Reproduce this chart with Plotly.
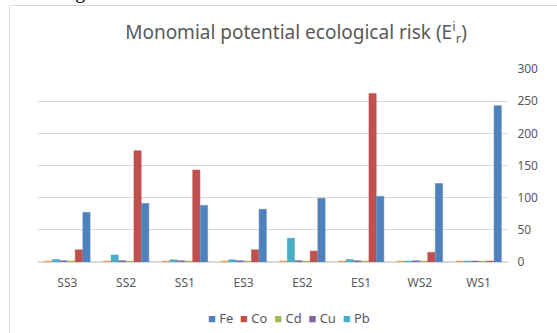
import plotly.graph_objects as go

categories = ["SS3", "SS2", "SS1", "ES3", "ES2", "ES1", "WS2", "WS1"]
fe = [77, 91, 88, 82, 99, 102, 122, 243]
co = [19, 173, 143, 19, 17, 262, 15, 1.5]
cd = [1.5, 1.5, 1.5, 1.5, 1.5, 1.5, 1.5, 1.5]
cu = [2, 2, 2, 2, 2, 2, 2, 1.5]
pb = [4, 11, 3.5, 3.5, 37, 4, 1.5, 1.5]
extra = [1.5, 1.5, 1.5, 1.5, 1.5, 1.5, 1.5, 1.5]
legend_names = ["Fe", "Co", "Cd", "Cu", "Pb"]
y_ticks = [0, 50, 100, 150, 200, 250, 300]

GRAY = "#595959"
COLORS = {"Fe": "#4F81BD", "Co": "#C0504D", "Cd": "#9BBB59",
          "Cu": "#8064A2", "Pb": "#4BACC6", "": "#F79646"}
fig = go.Figure()
series = [("", extra), ("Pb", pb), ("Cu", cu), ("Cd", cd), ("Co", co), ("Fe", fe)]
for name, vals in series:
    col = COLORS[name]
    fig.add_trace(go.Bar(
        x=categories, y=vals, name=name, showlegend=False,
        marker=dict(color=col, line=dict(color=col, width=0.5)),
    ))

L, T, PW, PH = 38, 69, 470, 193


def px_x(p):
    return (p - L) / PW


def px_y(p):
    return (T + PH - p) / PH


legend_text = "&nbsp;&nbsp;".join(
    f"<span style='color:{COLORS[n]}'>■</span> {n}" for n in legend_names
)

fig.update_layout(
    width=557, height=333,
    margin=dict(l=38, r=49, t=69, b=71),
    paper_bgcolor="white", plot_bgcolor="white",
    barmode="group", bargap=0.22, bargroupgap=0.05,
    font=dict(family="Noto Sans", color=GRAY, size=12),
    showlegend=False,
    title=dict(
        text="Monomial potential ecological risk (E<sup>i</sup><sub>r</sub>)",
        x=296 / 557, xanchor="center", y=1 - 32 / 333, yanchor="middle",
        font=dict(family="Noto Sans", size=19, color=GRAY),
    ),
    xaxis=dict(
        showgrid=False, showline=False, ticks="outside", ticklen=10,
        tickcolor="rgba(0,0,0,0)", tickfont=dict(size=12, color=GRAY),
    ),
    yaxis=dict(
        side="right", range=[0, 300], tickvals=y_ticks,
        showgrid=True, gridcolor="#D9D9D9", gridwidth=1,
        zeroline=True, zerolinecolor="#D9D9D9",
        showline=False, tickfont=dict(size=12, color=GRAY),
        ticks="outside", ticklen=6, tickcolor="rgba(0,0,0,0)",
    ),
    shapes=[
        dict(type="line", xref="paper", yref="paper", layer="above",
             x0=px_x(9.5), x1=px_x(600), y0=px_y(5.5), y1=px_y(5.5),
             line=dict(color="#D9D9D9", width=1)),
        dict(type="line", xref="paper", yref="paper", layer="above",
             x0=px_x(9.5), x1=px_x(9.5), y0=px_y(5.5), y1=px_y(400),
             line=dict(color="#D9D9D9", width=1)),
    ],
    annotations=[
        dict(text="ecological risk.", xref="paper", yref="paper",
             x=px_x(30), y=px_y(5), xanchor="left", yanchor="bottom",
             showarrow=False,
             font=dict(family="Liberation Serif", size=20, color="black")),
        dict(text=legend_text, xref="paper", yref="paper",
             x=px_x(289), y=px_y(318), xanchor="center", yanchor="middle",
             showarrow=False, font=dict(family="Noto Sans", size=13, color=GRAY)),
    ],
)

fig.write_html("out.html", config={"displayModeBar": False},
               post_script="document.body.style.margin='0';")
